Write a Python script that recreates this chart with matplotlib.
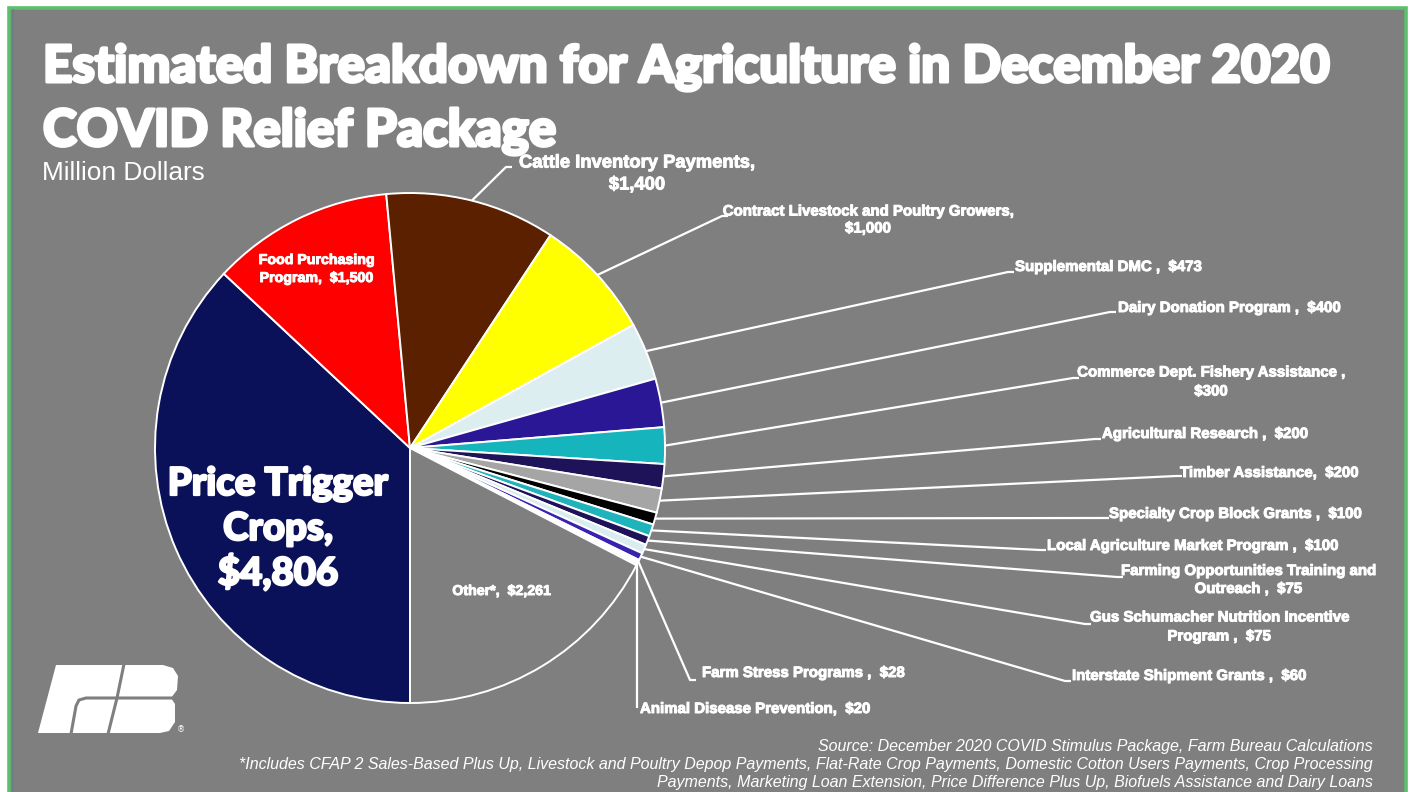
import matplotlib
matplotlib.use("Agg")
import matplotlib.pyplot as plt
from matplotlib.patches import Rectangle, Polygon
import matplotlib.font_manager as fm
import matplotlib.patheffects as pe
import numpy as np

# ---------------- data ----------------
categories = ["Price Trigger Crops", "Food Purchasing Program", "Cattle Inventory Payments",
              "Contract Livestock and Poultry Growers", "Supplemental DMC", "Dairy Donation Program",
              "Commerce Dept. Fishery Assistance", "Agricultural Research", "Timber Assistance",
              "Specialty Crop Block Grants", "Local Agriculture Market Program",
              "Farming Opportunities Training and Outreach",
              "Gus Schumacher Nutrition Incentive Program", "Interstate Shipment Grants",
              "Farm Stress Programs", "Animal Disease Prevention", "Other*"]
values = [4806, 1500, 1400, 1000, 473, 400, 300, 200, 200, 100, 100, 75, 75, 60, 28, 20, 2261]
label_templates = ["Price Trigger\nCrops,\n{v}", "Food Purchasing\nProgram,  {v}",
                   "Cattle Inventory Payments,\n{v}", "Contract Livestock and Poultry Growers,\n{v}",
                   "Supplemental DMC ,  {v}", "Dairy Donation Program ,  {v}",
                   "Commerce Dept. Fishery Assistance ,\n{v}", "Agricultural Research ,  {v}",
                   "Timber Assistance,  {v}", "Specialty Crop Block Grants ,  {v}",
                   "Local Agriculture Market Program ,  {v}",
                   "Farming Opportunities Training and\nOutreach ,  {v}",
                   "Gus Schumacher Nutrition Incentive\nProgram ,  {v}",
                   "Interstate Shipment Grants ,  {v}", "Farm Stress Programs ,  {v}",
                   "Animal Disease Prevention,  {v}", "Other*,  {v}"]
colors = ["#0B1159", "#FF0000", "#5A2000", "#FFFF00", "#DDEEF0", "#2A1796", "#16B4BC",
          "#1E1258", "#A5A5A5", "#000000", "#1FB4BC", "#1E1258", "#D9ECEE", "#3A22B0",
          "#FFFFFF", "#F2F2DC", "#7F7F7F"]
title_lines = ["Estimated Breakdown for Agriculture in December 2020", "COVID Relief Package"]
subtitle = "Million Dollars"
source_lines = ["Source: December 2020 COVID Stimulus Package, Farm Bureau Calculations",
                "*Includes CFAP 2 Sales-Based Plus Up, Livestock and Poultry Depop Payments, Flat-Rate Crop Payments, Domestic Cotton Users Payments, Crop Processing",
                "Payments, Marketing Loan Extension, Price Difference Plus Up, Biofuels Assistance and Dairy Loans"]

# ---------------- fonts ----------------
names = {f.name for f in fm.fontManager.ttflist}
narrow = "Liberation Sans Narrow" if "Liberation Sans Narrow" in names else "Liberation Sans"
heavy = "Lato" if "Lato" in names else "Liberation Sans"

W, H = 1413, 792
fig = plt.figure(figsize=(W / 100, H / 100), dpi=100)
fig.patch.set_facecolor("white")
ax = fig.add_axes([0, 0, 1, 1])


def Y(y):
    return H - y


renderer = fig.canvas.get_renderer()


def size_for(s, width_px, **kw):
    t = ax.text(0, 0, s, fontsize=10, **kw)
    w = t.get_window_extent(renderer).width
    t.remove()
    return 10 * width_px / w


def stroke(lw):
    return [pe.withStroke(linewidth=lw, foreground="white")]


# background panel with green frame
ax.add_patch(Rectangle((9, -20), 1397, Y(8) + 20, facecolor="#7F7F7F",
                       edgecolor="#5DBE6B", linewidth=2.6, zorder=0))
ax.plot([12.5, 12.5], [0, Y(10)], color="#6E7C8C", lw=1.2, zorder=0.5)

# ---------------- pie ----------------
center = (410, Y(448))
R = 255
wedges, _ = ax.pie(values, colors=colors, startangle=270, counterclock=False,
                   center=center, radius=R, frame=False,
                   wedgeprops=dict(edgecolor="white", linewidth=1.4))
ax.set_xlim(0, W)
ax.set_ylim(0, H)
ax.set_aspect("equal")
ax.axis("off")

lbl = [t.format(v="${:,}".format(v)) for t, v in zip(label_templates, values)]

# ---- title ----
tkw = dict(family=heavy, weight="black", color="white")
fs_title = size_for(title_lines[0], 1285, **tkw)
ax.text(43, Y(82), title_lines[0], fontsize=fs_title, ha="left", va="baseline",
        path_effects=stroke(2.2), **tkw)
ax.text(43, Y(146), title_lines[1], fontsize=fs_title, ha="left", va="baseline",
        path_effects=stroke(2.2), **tkw)
fs_sub = size_for(subtitle, 164, family="Liberation Sans")
ax.text(42, Y(173), subtitle, fontsize=fs_sub, family="Liberation Sans",
        color="white", ha="left", va="center")

# ---- big inside label ----
fs_big = size_for("Price Trigger", 220, **tkw)
for k, line in enumerate(lbl[0].split("\n")):
    ax.text(278, Y(495 + 45 * k), line, fontsize=fs_big, ha="center", va="baseline",
            path_effects=stroke(1.6), **tkw)

# ---- small label font ----
lab_kw = dict(family="Liberation Sans", weight="bold", color="white",
              path_effects=stroke(0.7))
fs_lab = size_for("Supplemental DMC ,  $473", 187, **lab_kw)

# Food (inside)
fs_food = size_for("Food Purchasing", 116, **lab_kw)
for k, line in enumerate(lbl[1].split("\n")):
    ax.text(317, Y(260 + 18 * k), line, fontsize=fs_food, ha="center", va="center", **lab_kw)
# Other (inside)
ax.text(502, Y(591), lbl[16], fontsize=fs_food, ha="center", va="center", **lab_kw)

# leader-line layout: index -> (elbow x, elbow y, text x, text y, ha, line spacing)
layout = {
    2: (506, 167, 637, 174, "center", 22),
    3: (722, 216, 868, 220, "center", 17),
    4: (1008, 272, 1015, 267, "left", 0),
    5: (1110, 312, 1118, 308, "left", 0),
    6: (1073, 378, 1211, 382, "center", 19),
    7: (1095, 439, 1102, 434, "left", 0),
    8: (1176, 476, 1180, 473, "left", 0),
    9: (1103, 518, 1109, 514, "left", 0),
    10: (1040, 550, 1047, 546, "left", 0),
    11: (1117, 577, 1248, 580, "center", 18),
    12: (1085, 624, 1219, 627, "center", 19),
    13: (1065, 681, 1072, 676, "left", 0),
    14: (690, 680, 702, 673, "left", 0),
    15: (None, 708, 640, 709, "left", 0),
}
fs_cattle = size_for("Cattle Inventory Payments,", 236, **lab_kw)

for i, (ex, ey, tx, ty, ha, sp) in layout.items():
    w = wedges[i]
    th = np.deg2rad((w.theta1 + w.theta2) / 2)
    px, py = center[0] + R * np.cos(th), center[1] + R * np.sin(th)
    if ex is None:
        ex = px
    xs = [px, ex, ex + (6 if i != 15 else 0)]
    ys = [py, Y(ey), Y(ey)]
    ax.plot(xs, ys, color="white", lw=1.6, solid_capstyle="butt", zorder=3)
    fs = fs_cattle if i == 2 else fs_lab
    lines = lbl[i].split("\n")
    if len(lines) == 1:
        ax.text(tx, Y(ty), lines[0], fontsize=fs, ha=ha, va="center", **lab_kw)
    else:
        n = len(lines)
        for k, line in enumerate(lines):
            yy = ty + (k - (n - 1) / 2) * sp
            ax.text(tx, Y(yy), line, fontsize=fs, ha=ha, va="center", **lab_kw)

# ---- source / footnote ----
fs_src = size_for(source_lines[0], 555, family=narrow, style="italic")
for k, (s, yy) in enumerate(zip(source_lines, [746, 764, 782])):
    ax.text(1373, Y(yy), s, fontsize=fs_src, family=narrow, style="italic",
            color="white", ha="right", va="center")

# ---- logo ----
logo = [(56, 665), (163, 665), (173, 668), (178, 676), (177, 690), (171, 698), (175, 704),
        (175, 722), (169, 731), (160, 733), (38, 733)]
ax.add_patch(Polygon([(x, Y(y)) for x, y in logo], closed=True, facecolor="white",
                     edgecolor="none", zorder=2))
gray = "#7F7F7F"
ax.plot([124, 117, 108], [Y(664), Y(698), Y(734)], color=gray, lw=2.2, zorder=2.5)
ax.plot([172, 86, 79, 76, 71], [Y(698), Y(698), Y(700), Y(706), Y(734)], color=gray,
        lw=2.2, zorder=2.5, solid_joinstyle="round")
ax.text(177, Y(730), "\u00ae", fontsize=6, color="white", ha="left", va="center")

fig.savefig("out.png", dpi=100, facecolor=fig.get_facecolor())
